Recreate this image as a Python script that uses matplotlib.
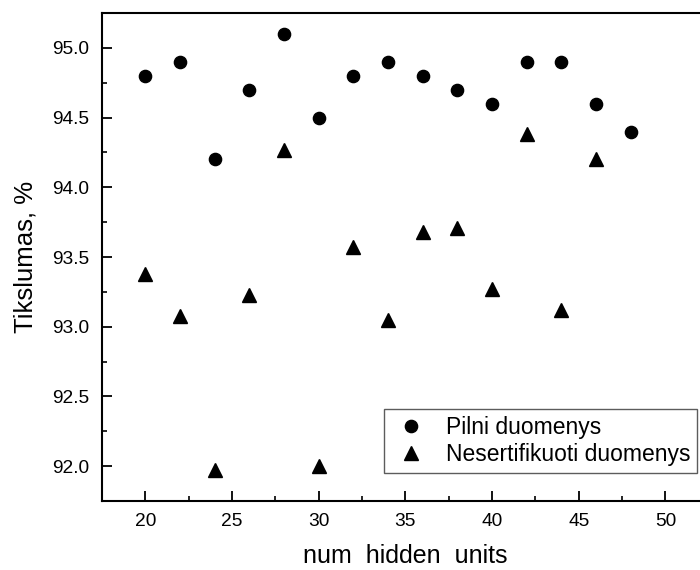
import matplotlib
matplotlib.use("Agg")
import matplotlib.pyplot as plt
from matplotlib.ticker import MultipleLocator, FormatStrFormatter

plt.rcParams['font.family'] = ['Liberation Sans', 'DejaVu Sans']

# Data
units_full = [20, 22, 24, 26, 28, 30, 32, 34, 36, 38, 40, 42, 44, 46, 48]
acc_full = [94.8, 94.9, 94.2, 94.7, 95.1, 94.5, 94.8, 94.9, 94.8, 94.7, 94.6, 94.9, 94.9, 94.6, 94.4]

units_noncert = [20, 22, 24, 26, 28, 30, 32, 34, 36, 38, 40, 42, 44, 46]
acc_noncert = [93.38, 93.08, 91.97, 93.23, 94.27, 92.0, 93.57, 93.05, 93.68, 93.71, 93.27, 94.38, 93.12, 94.2]

label_full = "Pilni duomenys"
label_noncert = "Nesertifikuoti duomenys"
xlabel = "num  hidden  units"
ylabel = "Tikslumas, %"

fig = plt.figure(figsize=(7.0, 5.7), dpi=100)
W, H = 700, 570
left, right, top, bottom = 102, 708.7, 13, 501
ax = fig.add_axes([left / W, 1 - bottom / H, (right - left) / W, (bottom - top) / H])

ax.plot(units_full, acc_full, linestyle='none', marker='o', markersize=8.8,
        color='black', label=label_full)
ax.plot(units_noncert, acc_noncert, linestyle='none', marker='^', markersize=9.5,
        color='black', label=label_noncert)

ax.set_xlim(17.5, 52.5)
ax.set_ylim(91.75, 95.25)
ax.xaxis.set_major_locator(MultipleLocator(5))
ax.xaxis.set_minor_locator(MultipleLocator(2.5))
ax.yaxis.set_major_locator(MultipleLocator(0.5))
ax.yaxis.set_minor_locator(MultipleLocator(0.25))
ax.yaxis.set_major_formatter(FormatStrFormatter('%.1f'))

for s in ax.spines.values():
    s.set_linewidth(1.5)
ax.spines['right'].set_visible(False)

ax.tick_params(which='major', direction='in', length=7, width=1.3, labelsize=13.8,
               top=False, right=False, pad=9)
ax.tick_params(which='minor', direction='in', length=3.5, width=1.2, top=False, right=False)

ax.set_xlabel(xlabel, fontsize=18, labelpad=10)
ax.set_ylabel(ylabel, fontsize=18.5, labelpad=11)

leg = ax.legend(loc='lower right', bbox_to_anchor=(697 / W, 1 - 473 / H),
                bbox_transform=fig.transFigure, fontsize=16.5, frameon=True,
                fancybox=False, borderpad=0.3, handlelength=1.8, handletextpad=0.6,
                labelspacing=0.2, borderaxespad=0)
leg.get_frame().set_edgecolor('#333333')
leg.get_frame().set_linewidth(1.0)

fig.savefig('out.png', dpi=100)
